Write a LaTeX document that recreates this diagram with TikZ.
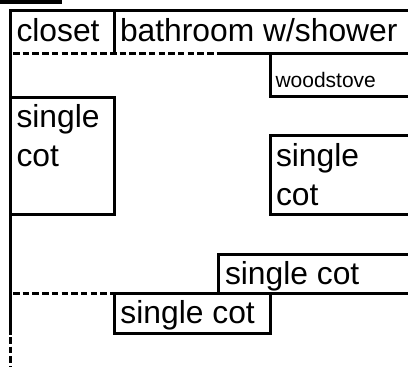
\documentclass[tikz,border=0pt]{standalone}
\usepackage{fontspec}
\setmainfont{Liberation Sans}
\tikzset{
  wall/.style={line width=3pt,black},
  thin wall/.style={wall,dash pattern=on 6.5pt off 3.2pt},
  lab/.style={anchor=base west,inner sep=0pt,outer sep=0pt,font=\fontsize{31.8}{34}\selectfont},
  smalllab/.style={lab,font=\fontsize{21}{24}\selectfont}
}
\begin{document}
\begin{tikzpicture}[x=1pt,y=-1pt]
\useasboundingbox (0,0) rectangle (408,367);
\begin{scope}
\clip (0,0) rectangle (408,367);
\fill[black] (0,0) rectangle (62,3.5);
% outer walls
\draw[wall] (408,10.5) -- (10.5,10.5) -- (10.5,335);
\draw[thin wall] (10.5,337) -- (10.5,367);
% closet / bathroom
\draw[wall] (114.5,10.5) -- (114.5,53.5);
\draw[thin wall] (13,53.5) -- (218,53.5);
\draw[wall] (218,53.5) -- (408,53.5);
% woodstove
\draw[wall] (270.5,53.5) -- (270.5,96.5) -- (408,96.5);
% left cot
\draw[wall] (10.5,97.5) -- (114.5,97.5) -- (114.5,214.5) -- (10.5,214.5);
% right cot
\draw[wall] (408,135.5) -- (270.5,135.5) -- (270.5,214.5) -- (408,214.5);
% upper horizontal cot
\draw[wall] (408,254.5) -- (218.5,254.5) -- (218.5,293.5) -- (408,293.5);
% lower horizontal cot
\draw[wall] (114.5,293.5) rectangle (270.5,333.5);
\draw[thin wall] (13,293.5) -- (114,293.5);
\end{scope}
\node[lab] (closet) at (16.5,41) {closet};
\node[lab] (bath) at (120,41) {bathroom w/shower};
\node[smalllab] (stove) at (275.5,87) {woodstove};
\node[lab] (s1) at (16.5,127) {single};
\node[lab] (c1) at (16.5,166) {cot};
\node[lab] (s2) at (276,166) {single};
\node[lab] (c2) at (276,205) {cot};
\node[lab] (s3) at (225,284) {single cot};
\node[lab] (s4) at (120.5,323) {single cot};
\end{tikzpicture}
\end{document}
